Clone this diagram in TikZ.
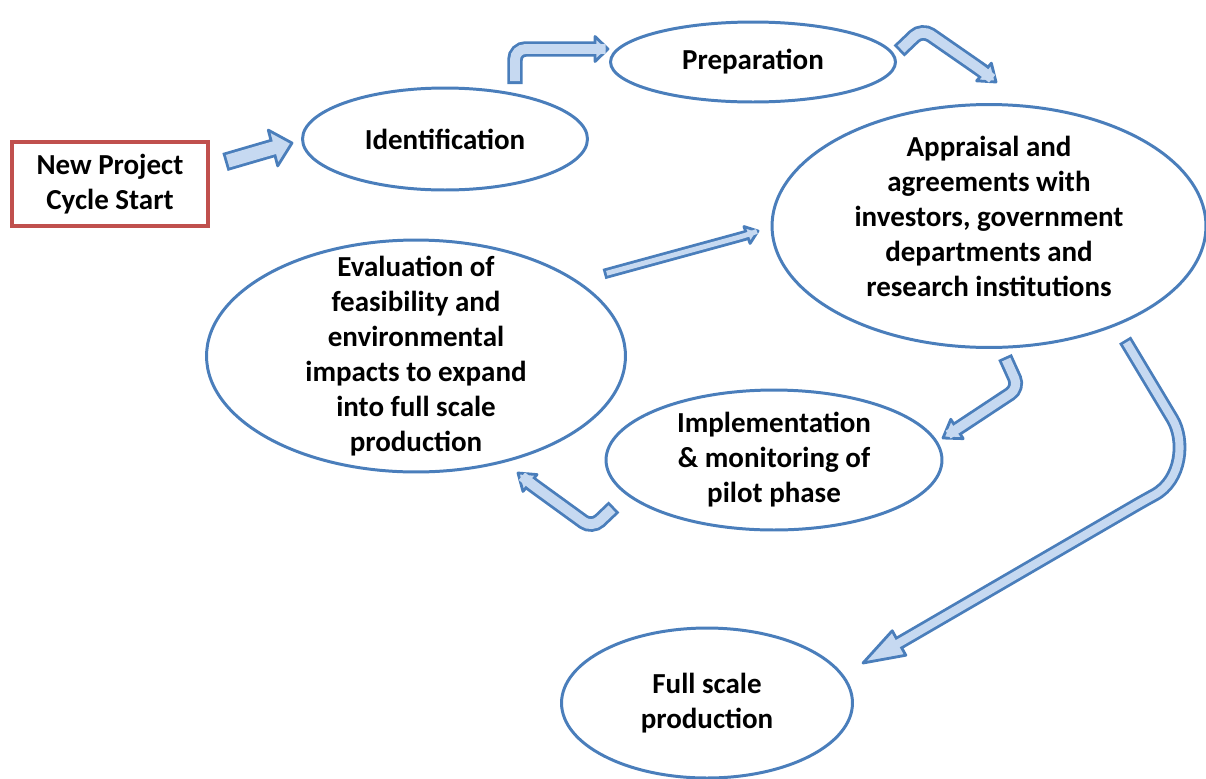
\documentclass[tikz,border=0pt]{standalone}
\usepackage{fontspec}
\setmainfont{Carlito}
\usepackage{xcolor}
\usepackage{tikz}
\usetikzlibrary{shapes.geometric,calc}
\definecolor{ringblue}{HTML}{4A7EBB}
\definecolor{arrowfill}{HTML}{C6D9F1}
\definecolor{boxred}{HTML}{C0504D}
\tikzset{
  stage/.style={ellipse, draw=ringblue, line width=1.7pt, inner sep=0pt,
    font=\fontsize{16.5}{19.9}\selectfont\bfseries, align=center},
  blockedge/.style={draw=ringblue, rounded corners=6pt},
  blockhead/.style={draw=ringblue, fill=arrowfill, line width=1.6pt, line join=round}
}
% fat arrow: #1 shaft path up to head base, #2 base, #3 tip,
% #4 outer width, #5 inner width, #6 half width of head
\newcommand{\blockarrow}[6]{%
  \draw[blockedge, line width=#4] #1;
  \filldraw[blockhead] (#3) -- ($(#2)!#6!90:(#3)$) -- ($(#2)!#6!-90:(#3)$) -- cycle;
  \draw[blockedge, draw=arrowfill, line width=#5, shorten <=1.6pt] #1 -- ($(#2)!2.5pt!(#3)$);
}

\begin{document}
\begin{tikzpicture}[x=0.02cm, y=-0.02cm]
\useasboundingbox (0,0) rectangle (1206,778);

% Start box
\node[draw=boxred, line width=1.9pt, minimum width=3.92cm, minimum height=1.68cm,
  inner sep=0pt, font=\fontsize{16.5}{19.9}\selectfont\bfseries, align=center]
  (start) at (110,184) {New Project\\Cycle Start};

% Stages
\node[stage, minimum width=5.7cm, minimum height=2.04cm] (ident) at (445,139) {Identification};
\node[stage, minimum width=5.7cm, minimum height=1.6cm] (prep) at (753,62) {Preparation};
\node[stage, minimum width=8.68cm, minimum height=4.86cm, text depth=0.4cm, inner ysep=-0.4cm]
  (apprais) at (989,226)
  {Appraisal and\\agreements with\\investors, government\\departments and\\research institutions};
\node[stage, minimum width=8.38cm, minimum height=4.64cm, inner ysep=-0.6cm] (evalu) at (416,356)
  {Evaluation of\\feasibility and\\environmental\\impacts to expand\\into full scale\\production};
\node[stage, minimum width=6.72cm, minimum height=2.8cm, inner ysep=-0.2cm] (implem) at (774,460)
  {Implementation\\\& monitoring of\\pilot phase};
\node[stage, minimum width=5.82cm, minimum height=3.0cm] (fullscale) at (707,703)
  {Full scale\\production};

% Arrow points
\coordinate (s-tail) at (225,162);
\coordinate (s-base) at (273,148);
\coordinate (s-tip) at (292,143);

\coordinate (i-tail) at (515,84);
\coordinate (i-bend) at (515,49);
\coordinate (i-base) at (595,49);
\coordinate (i-tip) at (608,49);

\coordinate (p-tail) at (899,51);
\coordinate (p-bend) at (922,29);
\coordinate (p-base) at (984,72);
\coordinate (p-tip) at (996,82);

\coordinate (e-tail) at (604,274);
\coordinate (e-base) at (747,235);
\coordinate (e-tip) at (758,231);

\coordinate (a-tail) at (1005,357);
\coordinate (a-bend) at (1019,388);
\coordinate (a-base) at (957,429);
\coordinate (a-tip) at (943,438);

\coordinate (m-tail) at (614,507);
\coordinate (m-bend) at (592,528);
\coordinate (m-base) at (530,483);
\coordinate (m-tip) at (518,473);

\coordinate (f-tail) at (1125,340);
\coordinate (f-turn) at (1167,410);
\coordinate (f-back) at (1145,500);
\coordinate (f-base) at (899,643);
\coordinate (f-tip) at (863,663);

% Block arrows
\blockarrow{(s-tail) -- (s-base)}{s-base}{s-tip}{10.6pt}{7.4pt}{0.37cm}
\blockarrow{(i-tail) -- (i-bend) -- (i-base)}{i-base}{i-tip}{8.8pt}{5.6pt}{0.25cm}
\blockarrow{(p-tail) -- (p-bend) -- (p-base)}{p-base}{p-tip}{8.8pt}{5.6pt}{0.23cm}
\blockarrow{(e-tail) -- (e-base)}{e-base}{e-tip}{6pt}{2.8pt}{0.18cm}
\blockarrow{(a-tail) -- (a-bend) -- (a-base)}{a-base}{a-tip}{8.4pt}{5.2pt}{0.23cm}
\blockarrow{(m-tail) -- (m-bend) -- (m-base)}{m-base}{m-tip}{8.8pt}{5.6pt}{0.22cm}
\blockarrow{(f-tail) -- (f-turn) .. controls (1185,440) and (1182,480) .. (f-back) -- (f-base)}{f-base}{f-tip}{7.8pt}{4.6pt}{0.28cm}

\end{tikzpicture}
\end{document}
